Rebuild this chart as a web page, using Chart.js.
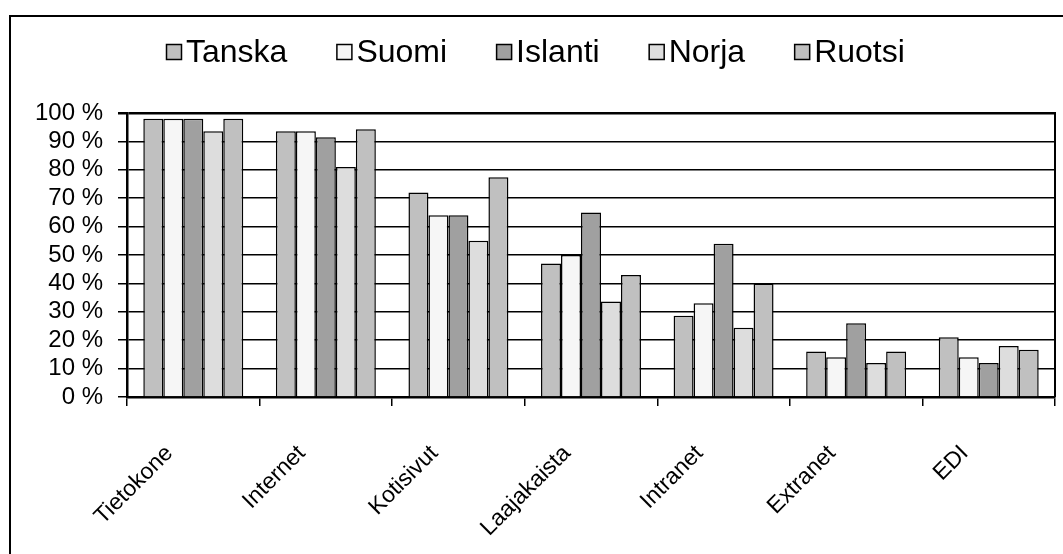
<!DOCTYPE html>
<html>
<head>
<meta charset="utf-8">
<script src="https://cdn.jsdelivr.net/npm/chart.js@4/dist/chart.umd.min.js"></script>
<style>
  html, body { margin: 0; padding: 0; background: #ffffff; }
  #wrap { width: 1063px; height: 554px; }
</style>
</head>
<body>
<div id="wrap"><canvas id="c" width="1063" height="554"></canvas></div>
<script>
// Categories (x axis)
const categories = ['Tietokone', 'Internet', 'Kotisivut', 'Laajakaista', 'Intranet', 'Extranet', 'EDI'];

// Share of companies (%) per country
const tanska  = [98, 93.6, 72, 47, 28.6, 16, 21];
const suomi   = [98, 93.6, 64, 50, 33, 14, 14];
const islanti = [98, 91.5, 64, 65, 54, 26, 12];
const norja   = [93.6, 81, 55, 33.6, 24.4, 12, 18];
const ruotsi  = [98, 94.3, 77.4, 43, 40, 16, 16.6];

const seriesNames = ['Tanska', 'Suomi', 'Islanti', 'Norja', 'Ruotsi'];
const seriesColors = ['#c0c0c0', '#f6f6f6', '#a0a0a0', '#dddddd', '#c0c0c0'];
const seriesData = [tanska, suomi, islanti, norja, ruotsi];

// Y axis ticks
const yMin = 0, yMax = 100, yStep = 10;

const FONT = '"Liberation Sans", Arial, sans-serif';

// Outer frame, plot box edges and the horizontal legend
const framePlugin = {
  id: 'frameAndLegend',
  afterDraw(chart) {
    const ctx = chart.ctx;
    const a = chart.chartArea;
    ctx.save();
    // right edge of the plot box
    ctx.strokeStyle = '#000';
    ctx.lineWidth = 2;
    ctx.beginPath();
    ctx.moveTo(a.right, a.top - 1);
    ctx.lineTo(a.right, a.bottom);
    ctx.stroke();
    // outer chart frame
    ctx.lineWidth = 2;
    ctx.strokeRect(10, 16, 1060, 560);

    // legend
    const fontSize = 32;
    ctx.font = fontSize + 'px ' + FONT;
    const box = 16, gap = 4, spacing = 49;
    const widths = chart.data.datasets.map(d => ctx.measureText(d.label).width);
    let total = 0;
    widths.forEach((w, i) => { total += box + gap + w + (i < widths.length - 1 ? spacing : 0); });
    let x = Math.round(535 - total / 2);
    const cy = 52;
    ctx.textBaseline = 'middle';
    ctx.textAlign = 'left';
    chart.data.datasets.forEach((d, i) => {
      ctx.fillStyle = d.backgroundColor;
      ctx.fillRect(x, cy - box / 2, box, box);
      ctx.lineWidth = 1.5;
      ctx.strokeStyle = '#000';
      ctx.strokeRect(x + 0.5, cy - box / 2 + 0.5, box - 1, box - 1);
      ctx.fillStyle = '#000';
      ctx.fillText(d.label, x + box + gap, cy + 1);
      x += box + gap + widths[i] + spacing;
    });
    ctx.restore();
  }
};

new Chart(document.getElementById('c'), {
  type: 'bar',
  data: {
    labels: categories,
    datasets: seriesNames.map((name, i) => ({
      label: name,
      data: seriesData[i],
      backgroundColor: seriesColors[i],
      borderColor: '#000',
      borderWidth: 1.5,
      categoryPercentage: 0.754,
      barPercentage: 1.0
    }))
  },
  options: {
    responsive: false,
    animation: false,
    devicePixelRatio: 1,
    layout: { padding: { top: 113, right: 8, left: 0, bottom: 0 } },
    plugins: {
      legend: { display: false },
      tooltip: { enabled: false }
    },
    scales: {
      x: {
        afterFit(scale) { scale.height = 157; },
        grid: {
          offset: true,
          drawOnChartArea: false,
          drawTicks: true,
          tickLength: 9,
          color: '#000',
          lineWidth: 1.5
        },
        border: { display: true, color: '#000', width: 2.5 },
        ticks: {
          autoSkip: false,
          minRotation: 45,
          maxRotation: 45,
          padding: 34,
          labelOffset: -24,
          color: '#000',
          font: { family: FONT, size: 23 }
        }
      },
      y: {
        min: yMin,
        max: yMax,
        afterFit(scale) { scale.width = 127; },
        grid: {
          color: '#000',
          lineWidth: ctx => (ctx.tick && ctx.tick.value === yMax ? 2.5 : 1.5),
          tickLength: 9,
          drawTicks: true
        },
        border: { display: true, color: '#000', width: 2.5 },
        ticks: {
          stepSize: yStep,
          autoSkip: false,
          padding: 15,
          color: '#000',
          font: { family: FONT, size: 24 },
          callback: v => v + ' %'
        }
      }
    }
  },
  plugins: [framePlugin]
});
</script>
</body>
</html>
